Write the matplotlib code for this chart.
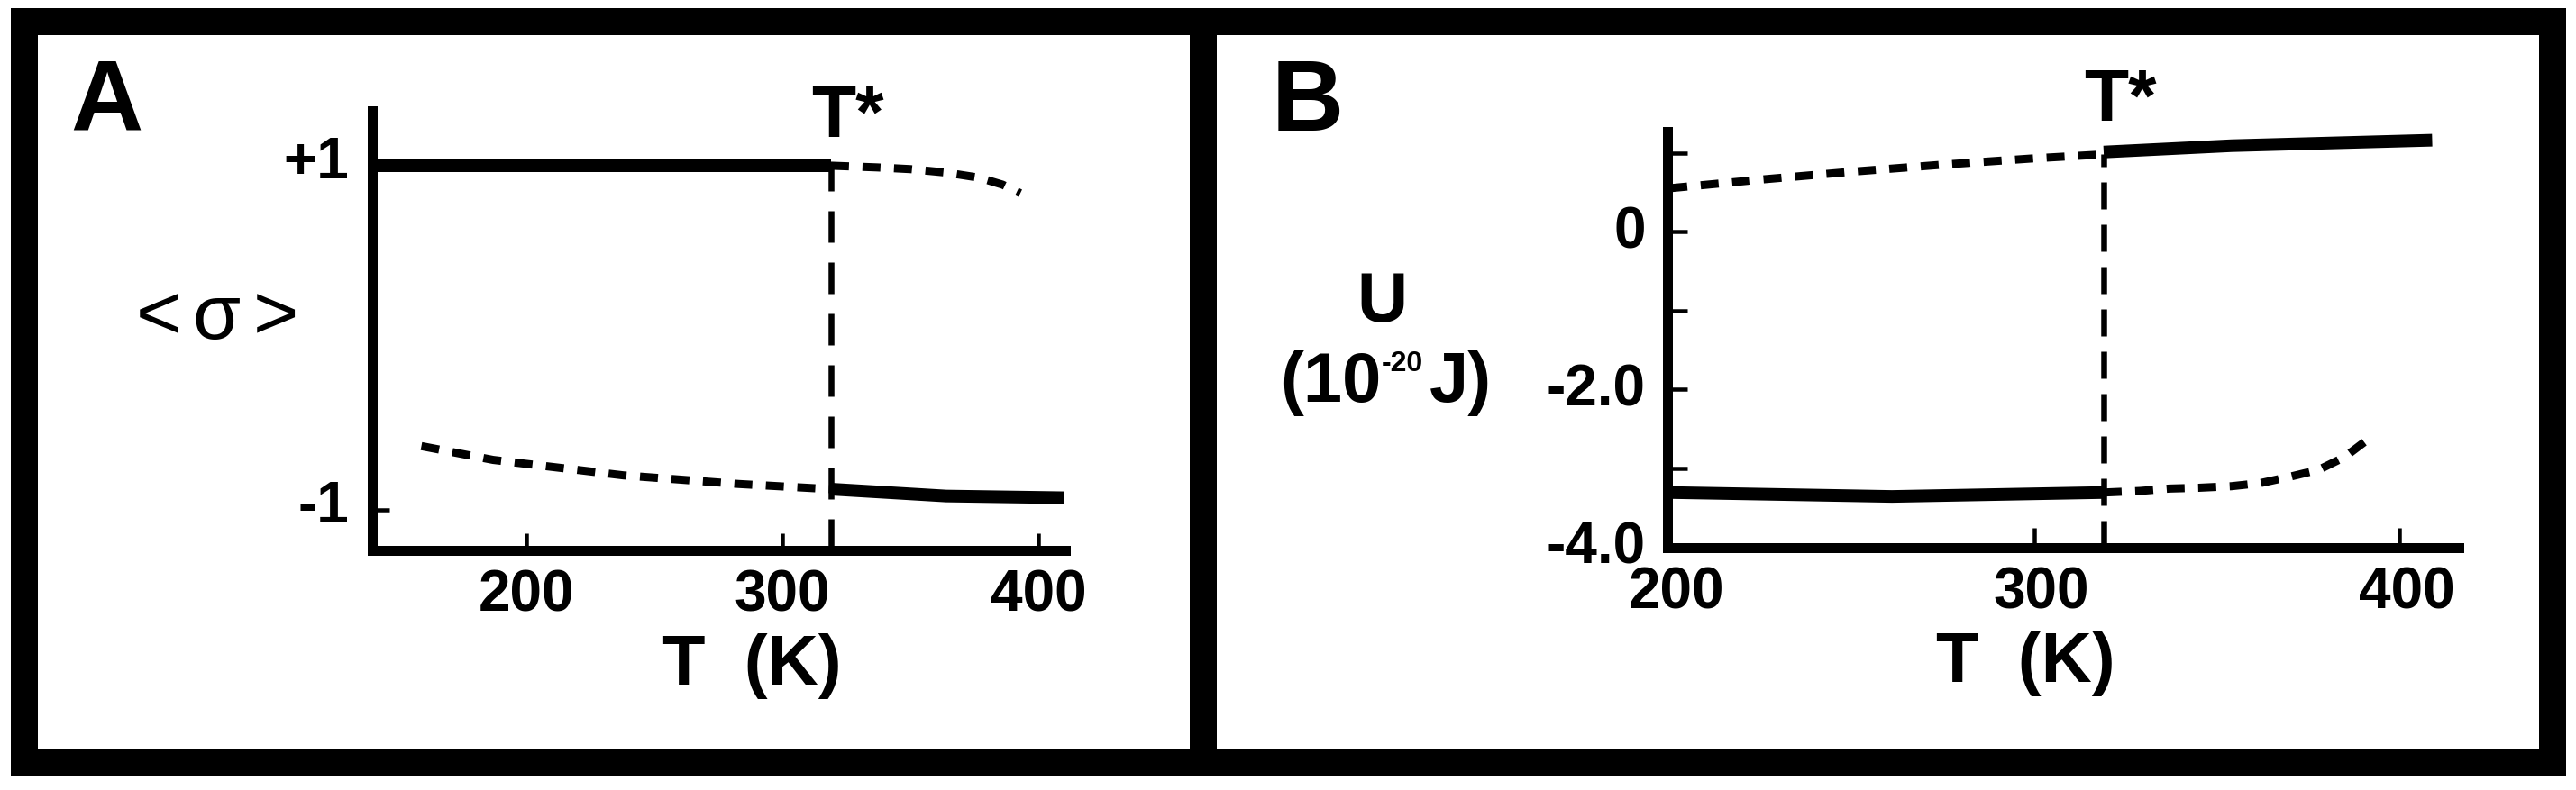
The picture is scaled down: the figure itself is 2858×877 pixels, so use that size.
import matplotlib
matplotlib.use('Agg')
import matplotlib.pyplot as plt
from matplotlib.transforms import offset_copy, ScaledTranslation
from matplotlib.lines import Line2D
from matplotlib.patches import Rectangle

# ---------------- data ----------------
T_star = 319

# Panel A : <sigma> vs T
A_upper_solid_T = [140, 319]
A_upper_solid_s = [1.0, 1.0]
A_upper_dash_T = [319, 337, 350, 364, 377, 386, 393]
A_upper_dash_s = [1.0, 0.99, 0.98, 0.96, 0.93, 0.89, 0.84]
A_lower_dash_T = [159, 187, 238, 283, 319]
A_lower_dash_s = [-0.63, -0.71, -0.80, -0.85, -0.88]
A_lower_solid_T = [319, 364, 410]
A_lower_solid_s = [-0.88, -0.92, -0.93]
A_xticks = [200, 300, 400]
A_yticks = [-1, 1]
A_yticklabels = ['-1', '+1']

# Panel B : U vs T
B_upper_dash_T = [200, 225, 250, 275, 300, 319]
B_upper_dash_U = [0.55, 0.66, 0.76, 0.85, 0.93, 0.98]
B_upper_solid_T = [319, 354, 409]
B_upper_solid_U = [1.01, 1.09, 1.16]
B_lower_solid_T = [200, 261, 319]
B_lower_solid_U = [-3.31, -3.36, -3.31]
B_lower_dash_T = [319, 329, 337, 345, 354, 362, 370, 378, 385, 391]
B_lower_dash_U = [-3.31, -3.29, -3.26, -3.25, -3.23, -3.19, -3.11, -3.02, -2.86, -2.65]
B_xticks = [200, 300, 400]
B_yticks = [1, 0, -1, -2, -3, -4]
B_yticklabels = ['', '0', '', '-2.0', '', '-4.0']

# ---------------- style ----------------
W, H, DPI = 2858, 878, 100
plt.rcParams['font.family'] = ['Liberation Sans', 'DejaVu Sans']
plt.rcParams['font.weight'] = 'bold'
plt.rcParams['lines.scale_dashes'] = False

PX = 72.0 / DPI  # points per pixel
SOLID_LW = 14 * PX
DASH_LW = 9 * PX
VLINE_LW = 6.5 * PX
SPINE_LW = 11 * PX
FRAME_LW = 30 * PX
curve_dash = (20 * PX, 15 * PX)

fig = plt.figure(figsize=(W / DPI, H / DPI), dpi=DPI)
fig.patch.set_facecolor('white')


def fx(x):
    return x / W


def fy(y):
    return 1 - y / H


def make_axes(l, r, t, b):
    ax = fig.add_axes([fx(l), fy(b), (r - l) / W, (b - t) / H])
    ax.patch.set_visible(False)
    for s in ('top', 'right'):
        ax.spines[s].set_visible(False)
    for s in ('left', 'bottom'):
        ax.spines[s].set_linewidth(SPINE_LW)
        ax.spines[s].set_capstyle('projecting')
    return ax


def shift_ylabels(ax, dy_px):
    for lbl in ax.get_yticklabels():
        lbl.set_transform(lbl.get_transform() + ScaledTranslation(0, dy_px / DPI, fig.dpi_scale_trans))


# ---------------- panel A ----------------
axA = make_axes(413, 1182, 124, 612)
axA.set_xlim(139.8, 410.6)
axA.set_ylim(-1.236, 1.319)
axA.set_xticks(A_xticks)
axA.set_xticklabels([str(v) for v in A_xticks])
axA.set_xticks([T_star], minor=True)
axA.set_yticks(A_yticks)
axA.set_yticklabels(A_yticklabels)
axA.tick_params(axis='both', which='both', direction='in', length=19 * PX, width=4.5 * PX,
                labelsize=46)
axA.tick_params(axis='x', pad=20 * PX)
axA.tick_params(axis='y', pad=26 * PX)
shift_ylabels(axA, 10)

axA.plot([T_star, T_star], [-1.236, 1.0], color='black', lw=VLINE_LW,
         dashes=(35 * PX, 22 * PX), dash_capstyle='butt', clip_on=False)
axA.plot(A_upper_solid_T, A_upper_solid_s, color='black', lw=SOLID_LW, solid_capstyle='butt')
axA.plot(A_upper_dash_T, A_upper_dash_s, color='black', lw=DASH_LW, dashes=curve_dash,
         dash_capstyle='butt')
axA.plot(A_lower_dash_T, A_lower_dash_s, color='black', lw=DASH_LW, dashes=curve_dash,
         dash_capstyle='butt')
axA.plot(A_lower_solid_T, A_lower_solid_s, color='black', lw=SOLID_LW, solid_capstyle='butt')

axA.text(T_star, 1.173, 'T*', fontsize=58, ha='left', va='baseline', clip_on=False,
         transform=offset_copy(axA.transData, fig=fig, x=-22, y=0, units='dots'))

# ---------------- panel B ----------------
axB = make_axes(1850, 2728, 147, 609)
axB.set_xlim(199.5, 416.3)
axB.set_ylim(-4.01, 1.27)
axB.set_xticks(B_xticks)
axB.set_xticklabels([str(v) for v in B_xticks])
axB.set_xticks([T_star], minor=True)
axB.set_yticks(B_yticks)
axB.set_yticklabels(B_yticklabels)
axB.tick_params(axis='both', which='both', direction='in', length=22 * PX, width=4.5 * PX,
                labelsize=46)
axB.tick_params(axis='x', pad=20 * PX)
axB.tick_params(axis='y', pad=24 * PX)
shift_ylabels(axB, 6)
for lbl in axB.get_xticklabels():
    lbl.set_transform(lbl.get_transform() + ScaledTranslation(8 / DPI, 0, fig.dpi_scale_trans))

axB.plot([T_star, T_star], [-4.01, 0.98], color='black', lw=VLINE_LW,
         dashes=(30 * PX, 17 * PX), dash_capstyle='butt', clip_on=False)
axB.plot(B_upper_dash_T, B_upper_dash_U, color='black', lw=DASH_LW, dashes=curve_dash,
         dash_capstyle='butt')
axB.plot(B_upper_solid_T, B_upper_solid_U, color='black', lw=SOLID_LW, solid_capstyle='butt')
axB.plot(B_lower_solid_T, B_lower_solid_U, color='black', lw=SOLID_LW, solid_capstyle='butt')
axB.plot(B_lower_dash_T, B_lower_dash_U, color='black', lw=DASH_LW, dashes=curve_dash,
         dash_capstyle='butt')

axB.text(T_star, 1.417, 'T*', fontsize=58, ha='left', va='baseline', clip_on=False,
         transform=offset_copy(axB.transData, fig=fig, x=-22, y=0, units='dots'))

# ---------------- labels ----------------
fig.text(fx(78), fy(145), 'A', fontsize=80, ha='left', va='baseline')
fig.text(fx(1411), fy(145), 'B', fontsize=80, ha='left', va='baseline')

# < sigma >
for ch, cx in (('<', 176), ('σ', 240), ('>', 306)):
    fig.text(fx(cx), fy(376), ch, fontsize=62, fontweight='normal', ha='center', va='baseline')

fig.text(fx(834), fy(760), 'T  (K)', fontsize=56, ha='center', va='baseline')
fig.text(fx(2247), fy(757), 'T  (K)', fontsize=56, ha='center', va='baseline')

# U (10^-20 J)
fig.text(fx(1533), fy(357), 'U', fontsize=56, ha='center', va='baseline')
fig.text(fx(1533), fy(446), '(10', fontsize=56, ha='right', va='baseline')
fig.text(fx(1533), fy(412), '-20', fontsize=23, ha='left', va='baseline')
fig.text(fx(1586), fy(446), 'J)', fontsize=56, ha='left', va='baseline')

# ---------------- frames ----------------
fig.add_artist(Rectangle((fx(27), fy(848)), (2832 - 27) / W, (848 - 25) / H, fill=False,
                         lw=FRAME_LW, edgecolor='black', joinstyle='miter',
                         transform=fig.transFigure))
fig.add_artist(Line2D([fx(1335), fx(1335)], [fy(25), fy(848)], lw=FRAME_LW, color='black',
                      solid_capstyle='butt', transform=fig.transFigure))

fig.savefig('out.png', dpi=DPI, facecolor='white')
